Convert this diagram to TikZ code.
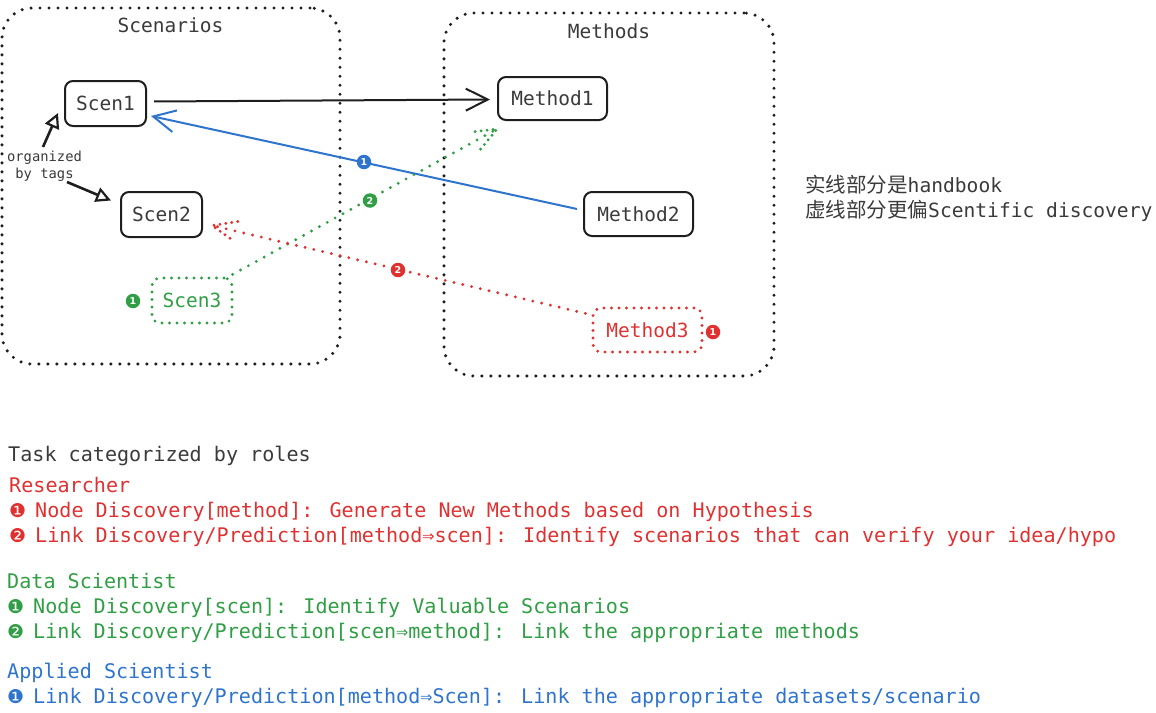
\documentclass[tikz,border=0pt]{standalone}
\usepackage{fontspec}
\setmainfont{DejaVu Sans Mono}
\newfontfamily\cjk{Noto Sans CJK SC}
\newfontfamily\dvs{DejaVu Sans}
\usetikzlibrary{arrows.meta,calc}
\definecolor{ink}{HTML}{1E1E1E}
\definecolor{gray1}{HTML}{3A3A3A}
\definecolor{red1}{HTML}{E03131}
\definecolor{green1}{HTML}{2F9E44}
\definecolor{blue1}{HTML}{2F74CC}
\newcommand\bul[1]{\makebox[26pt][l]{\dvs\fontsize{19}{19}\selectfont\raisebox{-0.5pt}{#1}}}
\tikzset{
  nbox/.style={draw=ink, line width=2pt, rounded corners=8pt, minimum width=81pt, minimum height=45pt, inner sep=0pt, font=\fontsize{19.5}{22}\selectfont, text=gray1},
  dbox/.style={nbox, dash pattern=on 0pt off 7.5pt, line cap=round, line width=3.2pt},
  grp/.style={draw=ink, line width=3.4pt, dash pattern=on 0pt off 9pt, line cap=round, rounded corners=30pt, inner sep=0pt},
  dotline/.style={line width=3.2pt, dash pattern=on 0pt off 9pt, line cap=round},
  dothead/.style={line width=3.2pt, dash pattern=on 0pt off 6pt, line cap=round},
  badge/.style={circle, inner sep=0pt, minimum size=14.5pt, text=white, font=\dvs\bfseries\fontsize{9.5}{9.5}\selectfont},
  txt/.style={anchor=base west, inner sep=0pt, font=\fontsize{20.1}{24}\selectfont},
  ttl/.style={anchor=base, inner sep=0pt, font=\fontsize{19.5}{22}\selectfont, text=gray1},
}
\begin{document}
\begin{tikzpicture}[x=1pt,y=-1pt]
\useasboundingbox (0,0) rectangle (1156,712);
% groups
\node[grp, minimum width=338pt, minimum height=356pt] (scenbox) at (171,186) {};
\node[grp, minimum width=330pt, minimum height=363pt] (methbox) at (609,194.5) {};
\node[ttl] (scentitle) at (170.5,32) {Scenarios};
\node[ttl] (methtitle) at (609,38) {Methods};
% nodes
\node[nbox] (scen1) at (105.5,103.5) {Scen1};
\node[nbox] (scen2) at (161.5,214.5) {Scen2};
\node[dbox, draw=green1, text=green1, minimum width=80pt] (scen3) at (192,300.5) {Scen3};
\node[nbox, minimum width=109pt, minimum height=43pt] (m1) at (552.5,98.5) {Method1};
\node[nbox, minimum width=109pt, minimum height=44pt] (m2) at (638.5,214) {Method2};
\node[dbox, draw=red1, text=red1, minimum width=109pt, minimum height=44pt] (m3) at (647.5,330) {Method3};
% organized by tags
\node[inner sep=0pt, align=center, font=\fontsize{13.8}{17}\selectfont, text=gray1] (org) at (44.5,166) {organized\\by tags};
\coordinate (o1) at (43,147);
\coordinate (o2) at (67,182);
\draw[ink, line width=2.6pt, -{Triangle[open, length=15pt, width=15pt, line width=2.2pt]}] (o1) -- ($(scen1.south west)+(-6,-14)$);
\draw[ink, line width=2.6pt, -{Triangle[open, length=15pt, width=15pt, line width=2.2pt]}] (o2) -- ($(scen2.west)+(-9,-14)$);
% black arrow
\draw[ink, line width=2pt, -{Straight Barb[length=22pt, width=22pt]}] ($(scen1.east)+(7,-2)$) -- ($(m1.west)+(-7,1)$);
% blue arrow
\draw[blue1, line width=2pt, -{Straight Barb[length=22pt, width=22pt]}] ($(m2.west)+(-6,-5)$) -- ($(scen1.south east)+(4,-11)$);
% green dotted arrow
\coordinate (gs) at ($(scen3.north east)+(-1,-2)$);
\coordinate (gtip) at ($(m1.south west)+(0,8)$);
\draw[green1, dotline] (gs) -- (gtip);
\draw[green1, dothead] ($(gtip)!26pt!22:(gs)$) -- (gtip) -- ($(gtip)!26pt!-22:(gs)$);
% red dotted arrow
\coordinate (rs) at ($(m3.north west)+(-6,7)$);
\coordinate (rtip) at ($(scen2.east)+(9,11)$);
\draw[red1, dotline] (rs) -- (rtip);
\draw[red1, dothead] ($(rtip)!26pt!22:(rs)$) -- (rtip) -- ($(rtip)!26pt!-22:(rs)$);
% badges
\node[badge, fill=blue1] (bb1) at (364,162) {1};
\node[badge, fill=green1] (gb2) at (370,200.5) {2};
\node[badge, fill=red1] (rb2) at (398,270) {2};
\node[badge, fill=green1] (gb1) at (133,301) {1};
\node[badge, fill=red1] (rb1) at (713,332) {1};
% note
\node[txt, font=\fontsize{19.6}{24}\selectfont, text=gray1] (n1) at (805,192) {{\cjk\fontsize{20.5}{24}\selectfont 实线部分是}handbook};
\node[txt, font=\fontsize{19.6}{24}\selectfont, text=gray1] (n2) at (805,217) {{\cjk\fontsize{20.5}{24}\selectfont 虚线部分更偏}Scentific discovery};
% list
\node[txt, text=gray1] (t0) at (8,461) {Task categorized by roles};
\node[txt, text=red1] (r0) at (9,492) {Researcher};
\node[txt, text=red1] (r1) at (9,517) {\bul{❶}Node Discovery[method]: Generate New Methods based on Hypothesis};
\node[txt, text=red1] (r2) at (9,542) {\bul{❷}Link Discovery/Prediction[method⇒scen]: Identify scenarios that can verify your idea/hypo};
\node[txt, text=green1] (g0) at (7,588) {Data Scientist};
\node[txt, text=green1] (g1) at (7,613) {\bul{❶}Node Discovery[scen]: Identify Valuable Scenarios};
\node[txt, text=green1] (g2) at (7,638) {\bul{❷}Link Discovery/Prediction[scen⇒method]: Link the appropriate methods};
\node[txt, text=blue1] (a0) at (7,678) {Applied Scientist};
\node[txt, text=blue1] (a1) at (7,703) {\bul{❶}Link Discovery/Prediction[method⇒Scen]: Link the appropriate datasets/scenario};
\end{tikzpicture}
\end{document}
